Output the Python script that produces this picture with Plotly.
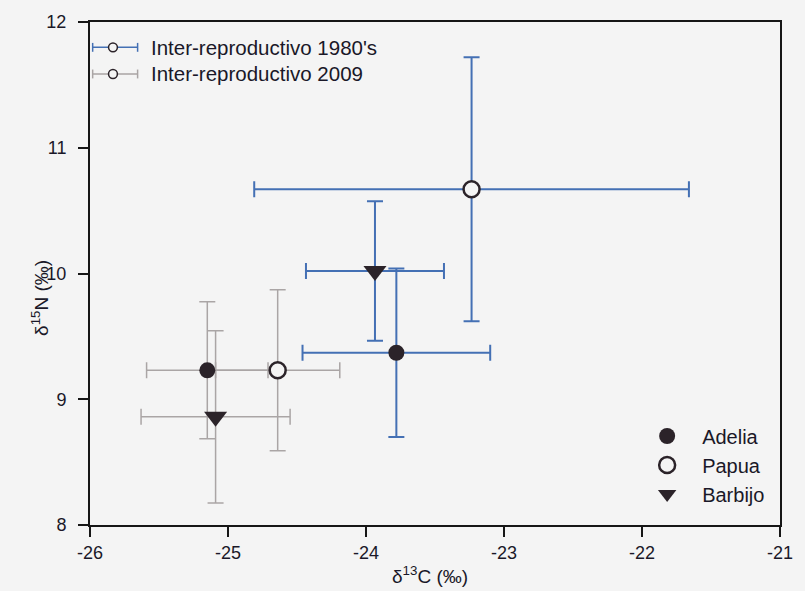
import plotly.graph_objects as go

# ---------------- data ----------------
species = ["Adelia", "Papua", "Barbijo"]
symbols = ["circle", "circle-open", "triangle-down"]

c13_1980 = [-23.78, -23.235, -23.935]
c13_sd_1980 = [0.68, 1.575, 0.50]
n15_1980 = [9.37, 10.67, 10.02]
n15_sd_1980 = [0.67, 1.05, 0.555]

c13_2009 = [-25.15, -24.64, -25.09]
c13_sd_2009 = [0.44, 0.45, 0.54]
n15_2009 = [9.23, 9.23, 8.86]
n15_sd_2009 = [0.545, 0.64, 0.685]

period_labels = ["Inter-reproductivo 1980's", "Inter-reproductivo 2009"]
x_ticks = [-26, -25, -24, -23, -22, -21]
y_ticks = [8, 9, 10, 11, 12]

# ---------------- styles ----------------
BG = "#f4f4f4"
BLUE = "#4470b4"
GRAY = "#aaa5a5"
MARK = "#2b2329"
TXT = "#1a1828"
FONT = "Liberation Sans, Arial, sans-serif"

W, H = 805, 591
L, R, T, B = 90, 790, 15, 525


def px(x, y):
    return (x - L) / (R - L), (B - y) / (B - T)


fig = go.Figure()

# error bars first (beneath all markers)
for xs, xsd, ys, ysd, col, wid in [
    (c13_2009, c13_sd_2009, n15_2009, n15_sd_2009, GRAY, 1.5),
    (c13_1980, c13_sd_1980, n15_1980, n15_sd_1980, BLUE, 2),
]:
    fig.add_trace(go.Scatter(
        x=xs, y=ys, mode="markers",
        marker=dict(size=1, opacity=0),
        error_x=dict(type="data", array=xsd, color=col, thickness=wid, width=8),
        error_y=dict(type="data", array=ysd, color=col, thickness=wid, width=8),
        showlegend=False, hoverinfo="skip",
    ))

# markers, one trace per species (both periods)
for i, sp in enumerate(species):
    sym = symbols[i]
    size = 20 if sym == "triangle-down" else 16
    fig.add_trace(go.Scatter(
        x=[c13_1980[i], c13_2009[i]],
        y=[n15_1980[i], n15_2009[i]],
        mode="markers", name=sp,
        marker=dict(
            symbol="circle" if sym == "circle-open" else sym,
            size=size,
            color=BG if sym == "circle-open" else MARK,
            line=dict(color=MARK, width=2.5 if sym == "circle-open" else 0),
        ),
    ))

# ---------------- manual period legend (error-bar glyphs) ----------------
shapes = []
annotations = []
for row, (lab, col) in enumerate(zip(period_labels, [BLUE, GRAY])):
    yc = 40.7 + 27 * row
    x0, x1, xc = 92.7, 138.3, 113.3
    a0, b0 = px(x0, yc)
    a1, _ = px(x1, yc)
    shapes.append(dict(type="line", xref="paper", yref="paper", x0=a0, x1=a1, y0=b0, y1=b0,
                       line=dict(color=col, width=1.5)))
    for xx in (x0, x1):
        ax, ay0 = px(xx, yc - 4.5)
        _, ay1 = px(xx, yc + 4.5)
        shapes.append(dict(type="line", xref="paper", yref="paper", x0=ax, x1=ax, y0=ay0, y1=ay1,
                           line=dict(color=col, width=1.5)))
    cx0, cy0 = px(xc - 4.5, yc - 4.5)
    cx1, cy1 = px(xc + 4.5, yc + 4.5)
    shapes.append(dict(type="circle", xref="paper", yref="paper", x0=cx0, x1=cx1, y0=cy1, y1=cy0,
                       fillcolor=BG, line=dict(color=MARK, width=1.5)))
    tx, ty = px(150, yc)
    annotations.append(dict(xref="paper", yref="paper", x=tx, y=ty, xanchor="left", yanchor="middle",
                            text=lab, showarrow=False, font=dict(size=20.5, color=TXT, family=FONT)))

# axis titles
ax_, ay_ = px(435, 576)
annotations.append(dict(xref="paper", yref="paper", x=ax_, y=ay_, xanchor="center", yanchor="middle",
                        text="δ<sup>13</sup>C (‰)", showarrow=False,
                        font=dict(size=19, color=TXT, family=FONT)))
bx_, by_ = px(39, 295)
annotations.append(dict(xref="paper", yref="paper", x=bx_, y=by_, xanchor="center", yanchor="middle",
                        text="δ<sup>15</sup>N (‰)", showarrow=False, textangle=-90,
                        font=dict(size=19, color=TXT, family=FONT)))

lx, ly = px(640, 415)
fig.update_layout(
    width=W, height=H,
    margin=dict(l=L, r=W - R, t=T, b=H - B, pad=0),
    paper_bgcolor=BG, plot_bgcolor=BG,
    font=dict(family=FONT, size=18, color=TXT),
    shapes=shapes, annotations=annotations,
    showlegend=True,
    legend=dict(x=lx, y=ly, xanchor="left", yanchor="top", bgcolor="rgba(0,0,0,0)",
                font=dict(size=20, color=TXT, family=FONT), tracegroupgap=0,
                itemwidth=60),
    xaxis=dict(range=[-26, -21], tickvals=x_ticks, ticktext=[str(v) for v in x_ticks],
               showgrid=False, zeroline=False, showline=True, linecolor="#161616", linewidth=2,
               mirror=True, ticks="outside", ticklen=10, tickwidth=1.5, tickcolor="#161616",
               tickfont=dict(size=18, color=TXT)),
    yaxis=dict(range=[8, 12], tickvals=y_ticks, ticktext=[str(v) for v in y_ticks],
               showgrid=False, zeroline=False, showline=True, linecolor="#161616", linewidth=2,
               mirror=True, ticks="outside", ticklen=10, tickwidth=1.5, tickcolor="#161616",
               tickfont=dict(size=18, color=TXT), ticklabelstandoff=8),
)

fig.write_html(
    "out.html",
    config={"displayModeBar": False},
    post_script="document.body.style.margin='0';document.body.style.overflow='hidden';"
                "document.body.style.background='" + BG + "';",
)
